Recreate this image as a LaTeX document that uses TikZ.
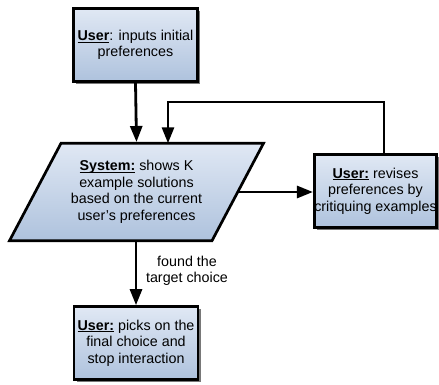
\documentclass[tikz,border=0pt]{standalone}
\usepackage{fontspec}
\setmainfont{Liberation Sans}
\usetikzlibrary{arrows.meta,shadows}
\definecolor{boxtop}{RGB}{224,232,244}
\definecolor{boxbot}{RGB}{174,194,221}
\definecolor{shadowgray}{RGB}{120,120,120}
% bold, underlined lead word; the depth is hidden so the rule sits just under the baseline
\newcommand{\leadword}[1]{\underline{\smash{\textbf{#1}}}}
\begin{document}
\begin{tikzpicture}[x=1pt,y=-1pt,
  font=\fontsize{14.3}{16.6}\selectfont,
  flowbox/.style={draw, line width=2.7pt, top color=boxtop, bottom color=boxbot,
    align=center, minimum width=124pt, minimum height=73pt, inner sep=0pt,
    drop shadow={shadow xshift=2.5pt, shadow yshift=-2.5pt, fill=shadowgray, opacity=1}},
  flow/.style={line width=2.8pt, -{Triangle[length=16pt,width=12pt]}},
  plain/.style={align=center, inner sep=0pt}
]
\useasboundingbox (0,0) rectangle (439,385);

% boxes
\node[flowbox] (start) at (135.5,45) {\leadword{User}: inputs initial\\preferences};
\node[flowbox, minimum width=122pt] (revise) at (375.5,191) {\leadword{User:} revises\\preferences by\\critiquing examples};
\node[flowbox] (pick) at (136,343) {\leadword{User:} picks on the\\final choice and\\stop interaction};

% parallelogram for the system step
\coordinate (pTL) at (61,143.3);
\coordinate (pTR) at (263.5,143.3);
\coordinate (pBR) at (212,240.7);
\coordinate (pBL) at (9.5,240.7);
\fill[shadowgray, shift={(2.5,2.5)}] (pTL) -- (pTR) -- (pBR) -- (pBL) -- cycle;
\shade[top color=boxtop, bottom color=boxbot] (pTL) -- (pTR) -- (pBR) -- (pBL) -- cycle;
\draw[line width=2.7pt, line join=miter] (pTL) -- (pTR) -- (pBR) -- (pBL) -- cycle;
\node[plain] (system) at (136.5,192) {\leadword{System:} shows K\\example solutions\\based on the current\\user's preferences};

% connectors
\coordinate (sysIn) at (136.5,142);
\coordinate (loopR) at (384,102);
\coordinate (loopL) at (168,102);
\coordinate (sysOut) at (238.5,192);
\coordinate (sysDown) at (136,242);

\draw[flow] (start.south) -- (sysIn);
\draw[flow] (revise.north -| loopR) -- (loopR) -- (loopL) -- (loopL |- pTL);
\draw[flow] (sysOut) -- (sysOut -| revise.west);
\draw[flow] (sysDown) -- (pick.north);

\node[plain] (found) at (187,271) {found the\\target choice};
\end{tikzpicture}
\end{document}
